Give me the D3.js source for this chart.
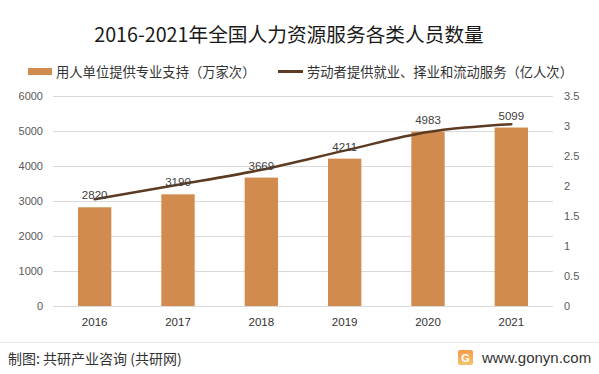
<!DOCTYPE html>
<meta charset="utf-8">
<style>
    body { margin: 0; background: #fff; }
    svg { display: block; font-family: "Microsoft YaHei", "Noto Sans CJK SC", sans-serif; }
</style>
<svg id="chart" width="599" height="374"></svg>
<script src="https://cdn.jsdelivr.net/npm/d3@7/dist/d3.min.js"></script>
<script>
    var years = ["2016", "2017", "2018", "2019", "2020", "2021"];
    var support = [2820, 3190, 3669, 4211, 4983, 5099];       // 万家次
    var services = [1.78, 2.02, 2.27, 2.59, 2.9, 3.03];       // 亿人次
    var leftTicks = [0, 1000, 2000, 3000, 4000, 5000, 6000];
    var rightTicks = [0, 0.5, 1, 1.5, 2, 2.5, 3, 3.5];

    var barColor = "#d28b4e";
    var lineColor = "#5c3b22";

    var svg = d3.select("#chart");
    // note: "top" is a reserved window property, so use plot* names
    var plotLeft = 53, plotRight = 553, plotTop = 96, plotBottom = 306;

    var x = d3.scaleBand().domain(years).range([plotLeft, plotRight]).paddingInner(0.6).paddingOuter(0.3);
    var yL = d3.scaleLinear().domain([0, 6000]).range([plotBottom, plotTop]);
    var yR = d3.scaleLinear().domain([0, 3.5]).range([plotBottom, plotTop]);

    // title
    svg.append("text")
        .attr("x", 289).attr("y", 42)
        .attr("text-anchor", "middle")
        .attr("font-size", 19.7)
        .attr("fill", "#1a1a1a")
        .text("2016-2021年全国人力资源服务各类人员数量");

    // legend
    svg.append("rect").attr("x", 28).attr("y", 68).attr("width", 24).attr("height", 7).attr("fill", barColor);
    svg.append("text").attr("x", 56).attr("y", 76.5).attr("font-size", 13.3).attr("fill", "#333")
        .text("用人单位提供专业支持（万家次）");
    svg.append("line").attr("x1", 278).attr("x2", 303).attr("y1", 71.5).attr("y2", 71.5)
        .attr("stroke", lineColor).attr("stroke-width", 3);
    svg.append("text").attr("x", 307).attr("y", 76.5).attr("font-size", 13.3).attr("fill", "#333")
        .text("劳动者提供就业、择业和流动服务（亿人次）");

    // grid
    svg.append("g").selectAll("line").data(leftTicks).join("line")
        .attr("x1", plotLeft).attr("x2", plotRight)
        .attr("y1", d => Math.round(yL(d)) + 0.5).attr("y2", d => Math.round(yL(d)) + 0.5)
        .attr("stroke", "#d9d9d9").attr("stroke-width", 1);

    // left axis
    var axL = svg.append("g").attr("transform", "translate(" + plotLeft + ",0)")
        .call(d3.axisLeft(yL).tickValues(leftTicks).tickSize(0).tickPadding(10).tickFormat(d3.format("d")));
    axL.select(".domain").remove();
    axL.selectAll("text").attr("font-size", 11).attr("fill", "#595959").attr("font-family", "Liberation Sans, sans-serif");

    // right axis
    var axR = svg.append("g").attr("transform", "translate(" + plotRight + ",0)")
        .call(d3.axisRight(yR).tickValues(rightTicks).tickSize(0).tickPadding(11).tickFormat(d3.format("")));
    axR.select(".domain").remove();
    axR.selectAll("text").attr("font-size", 11).attr("fill", "#595959").attr("font-family", "Liberation Sans, sans-serif");

    // bottom axis
    var axB = svg.append("g").attr("transform", "translate(0," + plotBottom + ")")
        .call(d3.axisBottom(x).tickSize(0).tickPadding(12));
    axB.select(".domain").remove();
    axB.selectAll("text").attr("font-size", 11.5).attr("fill", "#333").attr("font-family", "Liberation Sans, sans-serif");

    // bars
    svg.append("g").selectAll("rect").data(years).join("rect")
        .attr("x", d => x(d)).attr("width", x.bandwidth())
        .attr("y", (d, i) => yL(support[i]))
        .attr("height", (d, i) => plotBottom - yL(support[i]))
        .attr("fill", barColor);

    // line
    var line = d3.line()
        .x((d, i) => x(years[i]) + x.bandwidth() / 2)
        .y(d => yR(d))
        .curve(d3.curveMonotoneX);
    svg.append("path").datum(services)
        .attr("d", line)
        .attr("fill", "none")
        .attr("stroke", lineColor)
        .attr("stroke-width", 2.5)
        .attr("stroke-linecap", "round");

    // bar labels
    svg.append("g").selectAll("text").data(years).join("text")
        .attr("x", d => x(d) + x.bandwidth() / 2)
        .attr("y", (d, i) => yL(support[i]) - 8)
        .attr("text-anchor", "middle")
        .attr("font-size", 11.5)
        .attr("fill", "#404040")
        .attr("font-family", "Liberation Sans, sans-serif")
        .text((d, i) => support[i]);

    // footer
    svg.append("line").attr("x1", 0).attr("x2", 599).attr("y1", 342.5).attr("y2", 342.5)
        .attr("stroke", "#e8e8e8");
    svg.append("text").attr("x", 8).attr("y", 364).attr("font-size", 14).attr("fill", "#333")
        .text("制图: 共研产业咨询 (共研网)");
    var grad = svg.append("defs").append("linearGradient").attr("id", "logo")
        .attr("x1", 0).attr("y1", 0).attr("x2", 0).attr("y2", 1);
    grad.append("stop").attr("offset", 0).attr("stop-color", "#f59a4a");
    grad.append("stop").attr("offset", 1).attr("stop-color", "#f5c26b");
    svg.append("rect").attr("x", 458).attr("y", 350).attr("width", 15).attr("height", 15).attr("rx", 2)
        .attr("fill", "url(#logo)");
    svg.append("text").attr("x", 465.5).attr("y", 362).attr("text-anchor", "middle")
        .attr("font-size", 11).attr("font-weight", "bold").attr("fill", "#fff")
        .attr("font-family", "Liberation Sans, sans-serif").text("G");
    svg.append("text").attr("x", 482).attr("y", 363).attr("font-size", 15).attr("fill", "#333")
        .attr("font-family", "Liberation Sans, sans-serif")
        .text("www.gonyn.com");
</script>
